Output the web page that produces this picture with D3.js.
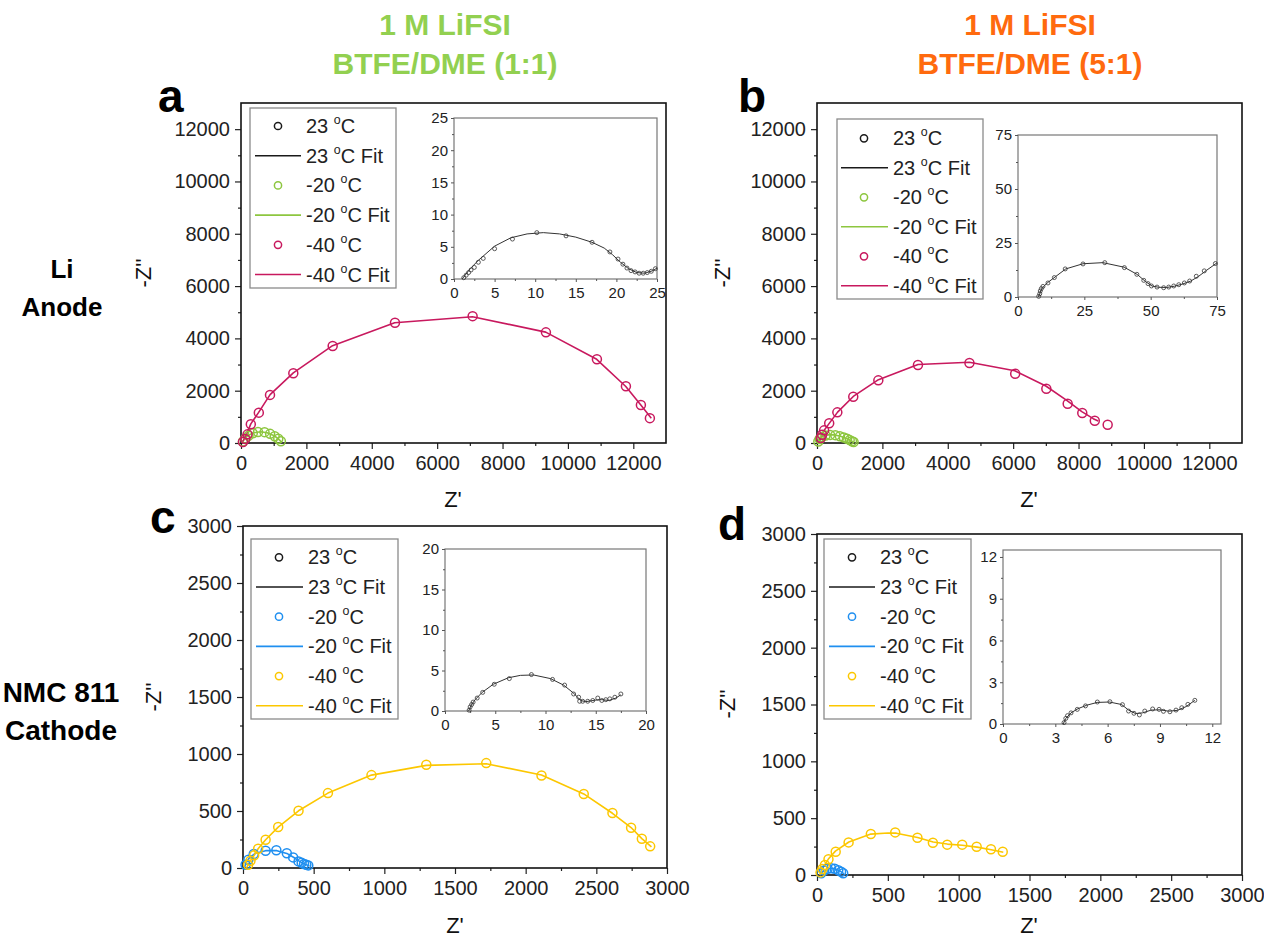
<!DOCTYPE html>
<html><head><meta charset="utf-8">
<script src="https://cdn.jsdelivr.net/npm/d3@7"></script>
<style>
body{margin:0;background:#fff;}
svg{display:block;font-family:"Liberation Sans",Arial,Helvetica,sans-serif;}
</style></head><body>
<svg id="fig" width="1264" height="940"></svg>
<script>
// ---------- Nyquist data: [Z', -Z''] ----------
// (a) Li anode, 1 M LiFSI BTFE/DME (1:1)
const aRoom = [[1.2,0.2],[1.5,0.6],[1.8,1.0],[2.1,1.4],[2.5,1.8],[3.0,2.6],[3.6,3.2],[5.0,4.7],[7.2,6.2],[10.2,7.2],[13.8,6.7],[17.0,5.7],[19.2,4.2],[20.2,3.1],[20.8,2.3],[21.3,1.7],[21.8,1.3],[22.3,1.1],[22.8,0.9],[23.3,0.9],[23.8,1.0],[24.3,1.2],[24.8,1.6]];
const aRoomFit = [[1.0,0],[2,1.6],[3,2.9],[5,5.1],[7,6.4],[9,7.0],[11,7.2],[13,7.0],[15,6.5],[17,5.7],[18.5,4.8],[19.5,3.8],[20.5,2.6],[21.5,1.6],[22.5,1.0],[23.5,0.9],[24.5,1.3],[25,1.7]];
const aMinus20 = [[60,60],[130,170],[230,280],[360,370],[520,420],[720,415],[890,350],[1030,260],[1140,160],[1220,70]];
const aMinus20Fit = [[30,0],[100,150],[220,290],[380,390],[600,430],[800,390],[960,310],[1090,210],[1180,110],[1250,20]];
const aMinus40 = [[60,40],[130,150],[200,330],[300,720],[545,1160],[887,1840],[1600,2670],[2804,3710],[4710,4600],[7085,4850],[9327,4230],[10887,3200],[11774,2170],[12232,1450],[12507,950]];
const aMinus40Fit = [[20,0],[80,120],[170,330],[300,730],[540,1170],[890,1850],[1600,2680],[2800,3720],[4700,4600],[7080,4830],[9320,4240],[10880,3200],[11770,2160],[12230,1450],[12550,950]];

// (b) Li anode, 1 M LiFSI BTFE/DME (5:1)
const bRoom = [[7.8,0.3],[8.2,1.5],[8.4,2.8],[8.8,3.9],[9.4,4.9],[11.3,6.5],[13.7,9.0],[17.8,13.0],[24.5,15.3],[32.7,15.9],[40.1,13.6],[44.8,10.5],[47.4,7.7],[49.0,6.2],[50.3,5.1],[52.4,4.6],[54.9,4.3],[56.8,4.6],[58.7,5.1],[60.6,5.7],[62.7,6.5],[64.7,7.4],[67.2,9.6],[70.2,12.1],[74.4,15.5]];
const bRoomFit = [[7.7,0],[8.2,1.6],[9,4],[11,6.5],[14,9.3],[18,13],[24.5,15.4],[32,15.9],[40,13.8],[45,10.4],[48,7.2],[50.5,5.1],[53,4.5],[56,4.4],[59,5],[62,6],[65,7.3],[68,9.5],[71,12.3],[75,15.8]];
const bMinus20 = [[40,60],[80,150],[150,230],[260,290],[400,310],[560,300],[700,260],[820,210],[920,160],[1000,110],[1070,70],[1120,35]];
const bMinus20Fit = [[30,0],[80,140],[160,240],[280,300],[420,320],[580,300],[720,255],[840,200],[950,140],[1040,85],[1120,30]];
const bMinus40 = [[114,191],[155,318],[218,484],[373,752],[622,1172],[1109,1771],[1876,2395],[3088,2981],[4663,3057],[6062,2650],[7015,2076],[7668,1503],[8114,1146],[8497,853],[8891,700]];
const bMinus40Fit = [[60,0],[120,210],[220,490],[380,760],[630,1180],[1110,1780],[1880,2420],[3090,3000],[4660,3090],[6050,2760],[7000,2180],[7650,1620],[8100,1200],[8450,930],[8600,840]];

// (c) NMC 811 cathode, 1 M LiFSI BTFE/DME (1:1)
const cRoom = [[2.4,0.1],[2.5,0.5],[2.65,0.8],[2.8,1.1],[3.2,1.6],[3.75,2.3],[4.9,3.3],[6.4,4.0],[8.6,4.5],[10.7,3.9],[11.9,3.2],[12.8,2.1],[13.3,1.7],[13.4,1.2],[13.7,1.2],[14.2,1.2],[14.7,1.3],[15.2,1.6],[15.6,1.3],[16.0,1.4],[16.4,1.5],[16.9,1.7],[17.5,2.1]];
const cRoomFit = [[2.35,0],[2.6,0.7],[3,1.4],[3.7,2.3],[4.8,3.3],[6.3,4.1],[7.5,4.4],[8.8,4.45],[10.5,4.0],[11.8,3.2],[12.8,2.2],[13.5,1.3],[14,1.15],[15,1.35],[15.6,1.4],[16.3,1.3],[17,1.6],[17.5,2.0]];
const cMinus20 = [[18,29],[38,73],[76,123],[160,152],[236,155],[310,129],[355,93],[393,58],[415,45],[432,35],[448,28],[462,23]];
const cMinus20Fit = [[10,0],[20,40],[45,90],[90,130],[160,152],[240,152],[310,128],[360,92],[400,58],[440,32],[470,18]];
const cMinus40 = [[36,29],[53,64],[79,111],[107,169],[160,248],[249,359],[393,502],[601,657],[909,815],[1297,906],[1721,920],[2112,812],[2411,649],[2614,482],[2746,353],[2822,257],[2881,190]];
const cMinus40Fit = [[25,0],[36,29],[53,64],[79,111],[107,169],[160,248],[249,359],[393,502],[601,657],[909,815],[1297,900],[1721,915],[2112,815],[2411,650],[2614,480],[2746,355],[2822,258],[2890,185]];

// (d) NMC 811 cathode, 1 M LiFSI BTFE/DME (5:1)
const dRoom = [[3.5,0.1],[3.6,0.4],[3.7,0.6],[3.9,0.8],[4.26,1.05],[4.73,1.3],[5.41,1.58],[6.13,1.6],[6.85,1.39],[7.2,0.93],[7.51,0.77],[7.82,0.65],[8.13,0.93],[8.58,1.08],[8.95,1.05],[9.2,0.91],[9.57,0.88],[9.92,1.0],[10.25,1.17],[10.6,1.41],[11.0,1.7]];
const dRoomFit = [[3.45,0],[3.6,0.4],[3.9,0.8],[4.3,1.1],[4.8,1.35],[5.4,1.55],[6.1,1.58],[6.8,1.4],[7.2,1.0],[7.6,0.75],[8.0,0.8],[8.5,1.0],[9,1.02],[9.5,0.92],[10,0.98],[10.5,1.25],[11,1.7]];
const dMinus20 = [[30,15],[50,40],[75,55],[100,60],[125,55],[150,42],[170,28],[185,15]];
const dMinus20Fit = [[20,0],[45,35],[75,55],[110,60],[145,45],[175,25],[190,10]];
const dMinus40 = [[25,23],[38,53],[56,88],[81,138],[132,205],[223,287],[380,361],[552,375],[709,328],[818,284],[919,267],[1025,267],[1127,249],[1228,226],[1311,205]];
const dMinus40Fit = [[20,0],[35,50],[55,90],[80,140],[130,210],[225,290],[380,360],[500,370],[560,368],[710,330],[820,290],[920,272],[1025,262],[1130,245],[1230,222],[1315,200]];

// ---------- ticks & labels ----------
const anodeTicks = [0,2000,4000,6000,8000,10000,12000];
const anodeMinor = [1000,3000,5000,7000,9000,11000];
const cathodeTicks = [0,500,1000,1500,2000,2500,3000];
const cathodeMinor = [250,750,1250,1750,2250,2750];
const aInsetTicks = [0,5,10,15,20,25];
const bInsetTicks = [0,25,50,75];
const cInsetTicks = [0,5,10,15,20];
const dInsetTicks = [0,3,6,9,12];
const legendTemps = ["23","23","-20","-20","-40","-40"];
const legendIsFit = [false,true,false,true,false,true];
const columnTitles = [["1 M LiFSI","BTFE/DME (1:1)"],["1 M LiFSI","BTFE/DME (5:1)"]];
const rowTitles = [["Li","Anode"],["NMC 811","Cathode"]];

// ---------- styling ----------
const colRoom = "#1a1a1a";
const colGreen = "#8dc63f";
const colCrimson = "#c8195e";
const colBlue = "#1f8ff0";
const colYellow = "#fcc700";

const panels = [
  {letter:"a", letterPos:[158,112], frame:{x:241,y:103,w:425,h:340}, xDom:[0,13000], yDom:[0,13000],
   ticks:anodeTicks, minor:anodeMinor, cold20:aMinus20, cold20Fit:aMinus20Fit, cold40:aMinus40, cold40Fit:aMinus40Fit, c20:colGreen, c40:colCrimson,
   inset:{x:454,y:118,w:203,h:161, dom:[0,25], ticks:aInsetTicks, minorStep:2.5, data:aRoom, fit:aRoomFit},
   legend:{x:250,y:108,w:146,h:180, row0:126, dy:29.7, mx:278, l0:255, l1:301, tx:306},
   ytitle:[151,273], xtitle:[453,507]},
  {letter:"b", letterPos:[738,112], frame:{x:817,y:103,w:425,h:340}, xDom:[0,13000], yDom:[0,13000],
   ticks:anodeTicks, minor:anodeMinor, cold20:bMinus20, cold20Fit:bMinus20Fit, cold40:bMinus40, cold40Fit:bMinus40Fit, c20:colGreen, c40:colCrimson,
   inset:{x:1018,y:135,w:199,h:162, dom:[0,75], ticks:bInsetTicks, minorStep:12.5, data:bRoom, fit:bRoomFit},
   legend:{x:837,y:119,w:146,h:180, row0:138.3, dy:29.5, mx:864, l0:841, l1:888, tx:893},
   ytitle:[730,273], xtitle:[1029,507]},
  {letter:"c", letterPos:[150,533], frame:{x:243,y:526,w:424,h:342}, xDom:[0,3000], yDom:[0,3000],
   ticks:cathodeTicks, minor:cathodeMinor, cold20:cMinus20, cold20Fit:cMinus20Fit, cold40:cMinus40, cold40Fit:cMinus40Fit, c20:colBlue, c40:colYellow,
   inset:{x:445,y:549,w:201,h:162, dom:[0,20], ticks:cInsetTicks, minorStep:2.5, data:cRoom, fit:cRoomFit},
   legend:{x:251,y:539,w:147,h:180, row0:557.3, dy:29.7, mx:279, l0:256, l1:303, tx:308},
   ytitle:[161,697], xtitle:[455,933]},
  {letter:"d", letterPos:[718,540], frame:{x:817,y:534,w:425,h:341}, xDom:[0,3000], yDom:[0,3000],
   ticks:cathodeTicks, minor:cathodeMinor, cold20:dMinus20, cold20Fit:dMinus20Fit, cold40:dMinus40, cold40Fit:dMinus40Fit, c20:colBlue, c40:colYellow,
   inset:{x:1003,y:550,w:218,h:174, dom:[0,12.5], ticks:dInsetTicks, minorStep:1.5, data:dRoom, fit:dRoomFit},
   legend:{x:824,y:539,w:147,h:180, row0:557.3, dy:29.7, mx:852, l0:829, l1:875, tx:880},
   ytitle:[735,704], xtitle:[1029,933]}
];

const svg = d3.select("#fig");

// column headers
const titleColors = ["#92d050","#ff6a0e"];
const titleX = [445,1030];
columnTitles.forEach((lines,i)=>{
  lines.forEach((t,j)=>{
    svg.append("text").attr("x",titleX[i]).attr("y",35+j*39)
      .attr("text-anchor","middle").attr("font-size",30).attr("font-weight","bold")
      .attr("fill",titleColors[i]).text(t);
  });
});

// row headers
const rowY = [[278,316],[702,740]];
const rowX = [62,61];
const rowSize = [26,28];
rowTitles.forEach((lines,i)=>{
  lines.forEach((t,j)=>{
    svg.append("text").attr("x",rowX[i]).attr("y",rowY[i][j])
      .attr("text-anchor","middle").attr("font-size",rowSize[i]).attr("font-weight","bold")
      .attr("fill","#000").text(t);
  });
});

function tempLabel(sel, temp, fit, size){
  sel.append("tspan").text(temp+" ");
  sel.append("tspan").attr("font-size",size*0.62).attr("dy",-size*0.45).text("o");
  sel.append("tspan").attr("dy",size*0.45).text("C"+(fit?" Fit":""));
}

const line = (x,y)=>d3.line().x(d=>x(d[0])).y(d=>y(d[1]));

panels.forEach(p=>{
  const f = p.frame;
  const g = svg.append("g");
  const x = d3.scaleLinear().domain(p.xDom).range([f.x, f.x+f.w]);
  const y = d3.scaleLinear().domain(p.yDom).range([f.y+f.h, f.y]);

  // panel letter
  svg.append("text").attr("x",p.letterPos[0]).attr("y",p.letterPos[1])
    .attr("font-size",46).attr("font-weight","bold").text(p.letter);

  // axes
  const fmt = d3.format("d");
  const ax = g.append("g").attr("transform",`translate(0,${f.y+f.h})`)
    .call(d3.axisBottom(x).tickValues(p.ticks).tickFormat(fmt).tickSize(6).tickSizeOuter(0));
  g.append("g").attr("transform",`translate(0,${f.y+f.h})`)
    .call(d3.axisBottom(x).tickValues(p.minor).tickFormat("").tickSize(3).tickSizeOuter(0));
  const ay = g.append("g").attr("transform",`translate(${f.x},0)`)
    .call(d3.axisLeft(y).tickValues(p.ticks).tickFormat(fmt).tickSize(6).tickSizeOuter(0));
  g.append("g").attr("transform",`translate(${f.x},0)`)
    .call(d3.axisLeft(y).tickValues(p.minor).tickFormat("").tickSize(3).tickSizeOuter(0));
  g.selectAll(".domain").remove();
  g.selectAll(".tick line").attr("stroke","#222").attr("stroke-width",1.2);
  g.selectAll(".tick text").attr("font-size",20).attr("fill","#222")
    .attr("font-family","'Liberation Sans',Arial,sans-serif");
  ax.selectAll(".tick text").attr("dy","0.9em");
  ay.selectAll(".tick text").attr("dx","-0.1em");

  g.append("rect").attr("x",f.x).attr("y",f.y).attr("width",f.w).attr("height",f.h)
    .attr("fill","none").attr("stroke","#111").attr("stroke-width",1.6);

  // axis titles
  svg.append("text").attr("transform",`translate(${p.ytitle[0]},${p.ytitle[1]}) rotate(-90)`)
    .attr("text-anchor","middle").attr("font-size",22).attr("fill","#111").text("-Z''");
  svg.append("text").attr("x",p.xtitle[0]).attr("y",p.xtitle[1])
    .attr("text-anchor","middle").attr("font-size",22).attr("fill","#111").text("Z'");

  // series
  const plot = g.append("g");
  [[p.cold20Fit,p.c20],[p.cold40Fit,p.c40]].forEach(([d,c])=>{
    plot.append("path").datum(d).attr("d",line(x,y)).attr("fill","none")
      .attr("stroke",c).attr("stroke-width",1.6).attr("stroke-linejoin","round");
  });
  [[p.cold20,p.c20],[p.cold40,p.c40]].forEach(([d,c])=>{
    plot.selectAll(null).data(d).enter().append("circle")
      .attr("cx",v=>x(v[0])).attr("cy",v=>y(v[1])).attr("r",4.5)
      .attr("fill","none").attr("stroke",c).attr("stroke-width",1.5);
  });

  // legend
  const L = p.legend;
  const lg = g.append("g");
  lg.append("rect").attr("x",L.x).attr("y",L.y).attr("width",L.w).attr("height",L.h)
    .attr("fill","#fff").attr("stroke","#8a8a8a").attr("stroke-width",1.3);
  const legColors = [colRoom,colRoom,p.c20,p.c20,p.c40,p.c40];
  legendTemps.forEach((t,i)=>{
    const ry = L.row0 + i*L.dy;
    if(legendIsFit[i]){
      lg.append("line").attr("x1",L.l0).attr("x2",L.l1).attr("y1",ry).attr("y2",ry)
        .attr("stroke",legColors[i]).attr("stroke-width",1.6);
    } else {
      lg.append("circle").attr("cx",L.mx).attr("cy",ry).attr("r",3.6)
        .attr("fill","none").attr("stroke",legColors[i]).attr("stroke-width",1.5);
    }
    const tx = lg.append("text").attr("x",L.tx).attr("y",ry+7).attr("font-size",20).attr("fill","#222");
    tempLabel(tx,t,legendIsFit[i],20);
  });

  // inset: 23 °C spectrum at high magnification
  const I = p.inset;
  const ig = g.append("g");
  const ix = d3.scaleLinear().domain(I.dom).range([I.x, I.x+I.w]);
  const iy = d3.scaleLinear().domain(I.dom).range([I.y+I.h, I.y]);
  ig.append("rect").attr("x",I.x).attr("y",I.y).attr("width",I.w).attr("height",I.h)
    .attr("fill","#fff").attr("stroke","#777").attr("stroke-width",1.2);
  const iMinor = d3.range(I.dom[0]+I.minorStep, I.dom[1], I.minorStep*2);
  const ixA = ig.append("g").attr("transform",`translate(0,${I.y+I.h})`)
    .call(d3.axisBottom(ix).tickValues(I.ticks).tickFormat(d3.format("d")).tickSize(3).tickSizeOuter(0));
  ig.append("g").attr("transform",`translate(0,${I.y+I.h})`)
    .call(d3.axisBottom(ix).tickValues(iMinor).tickFormat("").tickSize(2).tickSizeOuter(0));
  const iyA = ig.append("g").attr("transform",`translate(${I.x},0)`)
    .call(d3.axisLeft(iy).tickValues(I.ticks).tickFormat(d3.format("d")).tickSize(3).tickSizeOuter(0));
  ig.append("g").attr("transform",`translate(${I.x},0)`)
    .call(d3.axisLeft(iy).tickValues(iMinor).tickFormat("").tickSize(2).tickSizeOuter(0));
  ig.selectAll(".domain").remove();
  ig.selectAll(".tick line").attr("stroke","#555");
  ig.selectAll(".tick text").attr("font-size",15).attr("fill","#222")
    .attr("font-family","'Liberation Sans',Arial,sans-serif");
  ixA.selectAll(".tick text").attr("dy","0.85em");
  ig.append("path").datum(I.fit).attr("d",line(ix,iy)).attr("fill","none")
    .attr("stroke","#333").attr("stroke-width",1);
  ig.selectAll(null).data(I.data).enter().append("circle")
    .attr("cx",v=>ix(v[0])).attr("cy",v=>iy(v[1])).attr("r",2)
    .attr("fill","none").attr("stroke","#333").attr("stroke-width",0.8);
});
</script>
</body></html>
